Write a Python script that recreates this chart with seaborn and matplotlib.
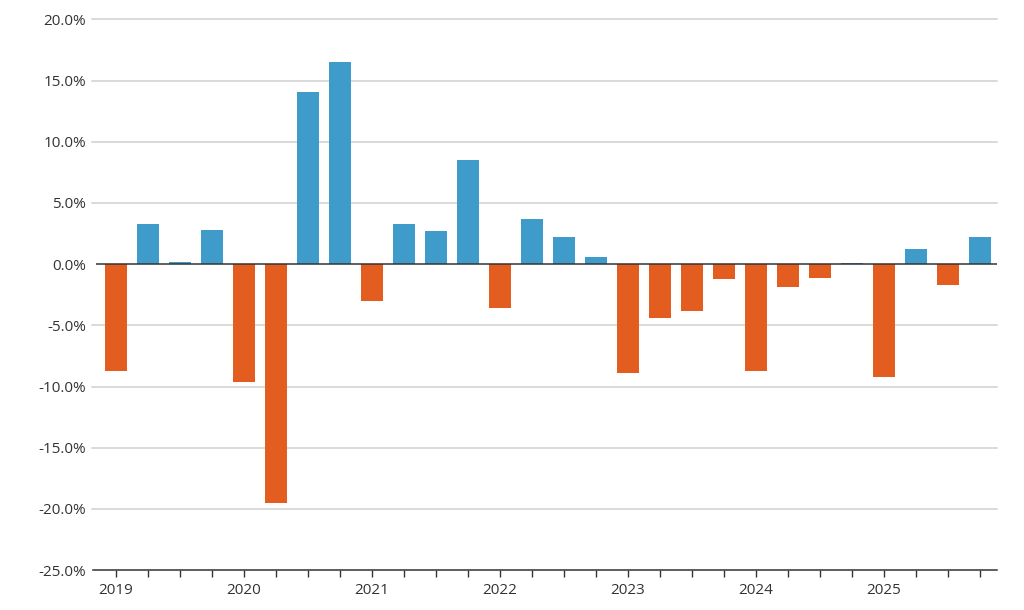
import numpy as np
import matplotlib
matplotlib.use('Agg')
import matplotlib.pyplot as plt
import pandas as pd
import seaborn as sns

# ---- data: quarterly change, 2019 Q1 .. 2025 Q4 ----
years = ['2019', '2020', '2021', '2022', '2023', '2024', '2025']
quarters = ['Q1', 'Q2', 'Q3', 'Q4']
values = [-8.7, 3.3, 0.2, 2.8,
          -9.6, -19.5, 14.1, 16.5,
          -3.0, 3.3, 2.7, 8.5,
          -3.6, 3.7, 2.2, 0.6,
          -8.9, -4.4, -3.8, -1.2,
          -8.7, -1.9, -1.1, 0.1,
          -9.2, 1.2, -1.7, 2.2]
y_ticks = [-25, -20, -15, -10, -5, 0, 5, 10, 15, 20]

labels = [y + ' ' + q for y in years for q in quarters]
df = pd.DataFrame({'period': labels, 'change': values})
df['sign'] = np.where(df['change'] >= 0, 'up', 'down')

sns.set_style('white')
plt.rcParams['font.family'] = ['Open Sans', 'DejaVu Sans']

fig = plt.figure(figsize=(10.24, 6.1), dpi=100)
ax = fig.add_axes([96 / 1024, 1 - 570 / 610, (997 - 96) / 1024, (570 - 19.5) / 610])

for t in y_ticks:
    if t not in (0, -25):
        ax.axhline(t, color='#d9d9d9', lw=1.4, zorder=0, xmin=-0.004, clip_on=False)

sns.barplot(data=df, x='period', y='change', hue='sign',
            palette={'up': '#3f9bc9', 'down': '#e35d20'}, saturation=1,
            dodge=False, width=0.69, legend=False, ax=ax, zorder=2,
            edgecolor='none')

ax.axhline(0, color='#333333', lw=1.1, zorder=3)

ax.set_ylim(-25, 20)
ax.set_xlim(-0.62, len(values) - 1 + 0.53)
ax.set_yticks(y_ticks)
ax.set_yticklabels([f'{t:.1f}%' for t in y_ticks])
ax.set_xticks(range(len(values)))
ax.set_xticklabels([lab.split()[0] if lab.endswith('Q1') else '' for lab in labels])

ax.set_xlabel('')
ax.set_ylabel('')
for s in ['top', 'right', 'left']:
    ax.spines[s].set_visible(False)
ax.spines['bottom'].set_color('#333333')
ax.spines['bottom'].set_linewidth(1.1)
ax.spines['bottom'].set_bounds(-0.72, len(values) - 1 + 0.53)
ax.spines['bottom'].set_zorder(3)

ax.tick_params(axis='x', bottom=True, length=5, width=1, color='#333333',
               labelsize=11, labelcolor='#333333', pad=4)
ax.tick_params(axis='y', length=0, labelsize=11, labelcolor='#333333', pad=7)

fig.savefig('out.png', dpi=100)
